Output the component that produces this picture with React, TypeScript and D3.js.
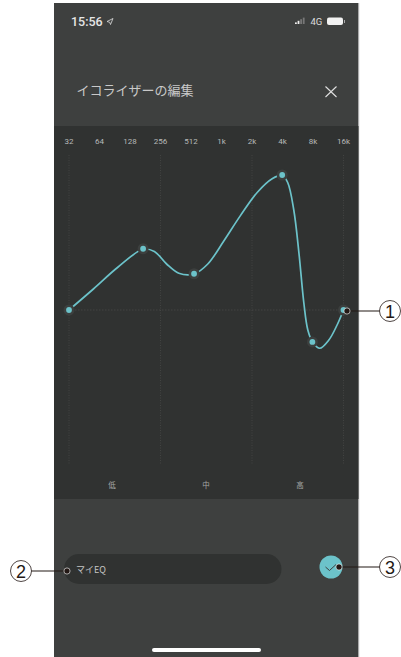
import React from "react";
import * as d3 from "d3";

const bands = ["32", "64", "128", "256", "512", "1k", "2k", "4k", "8k", "16k"];
const zones = ["低", "中", "高"];
// [band position, gain]
const handles: [number, number][] = [[0, 0], [2.43, 4.9], [4.1, 2.9], [6.99, 10.8], [7.98, -2.55], [9, 0]];
const curve: [number, number][] = [
  [0, 0], [0.8, 1.68], [1.6, 3.42], [2.43, 4.86], [2.8, 4.68], [3.2, 3.68], [3.6, 2.94], [4.1, 2.88],
  [4.55, 3.68], [5.07, 5.5], [5.62, 7.55], [6.17, 9.4], [6.66, 10.5], [6.99, 10.78], [7.17, 10.2],
  [7.37, 8], [7.54, 4.53], [7.7, 0.56], [7.83, -1.6], [7.99, -2.58], [8.22, -3.06], [8.52, -2.4], [8.79, -1.2], [9, 0],
];
const gridBands = [0, 3, 6, 9];
const zoneCentres = [1.41, 4.49, 7.57];

const x = d3.scaleLinear().domain([0, 9]).range([69, 343.5]);
const y = d3.scaleLinear().domain([-12, 12]).range([460, 160]);
const path = d3.line<[number, number]>().x((d) => x(d[0])).y((d) => y(d[1])).curve(d3.curveCatmullRom.alpha(0.5));

const SANS = "Roboto, 'Noto Sans CJK JP', sans-serif";
const JP = "'Noto Sans CJK JP', sans-serif";
const TEAL = "#6cc3ca";
const callouts = [
  { label: "1", dot: 347, cx: 390, cy: 311 },
  { label: "2", dot: 67, cx: 21, cy: 571 },
  { label: "3", dot: 339, cx: 390, cy: 567 },
];

export default function App() {
  return (
    <svg width={401} height={657} style={{ position: "absolute", left: 0, top: 0, background: "#fff" }}>
      <rect x={54} y={3} width={304.5} height={654} fill="#3e403f" />
      <rect x={358.5} y={3} width={0.7} height={654} fill="#b5b5b5" />
      <rect x={54} y={126} width={304.5} height={373} fill="#303231" />

      <text x={71} y={25.5} fontFamily={SANS} fontSize={12.5} fontWeight={500} fill="#e6e6e6">15:56</text>
      <path d="M107 21.5l6-3-2.5 6-.8-2.2z" fill="none" stroke="#ddd" strokeWidth={0.8} />
      {[0, 1, 2, 3].map((i) => (
        <rect key={i} x={295 + i * 2.6} y={24 - (i + 1) * 1.6} width={1.8} height={(i + 1) * 1.6} fill={i < 2 ? "#eee" : "#777"} />
      ))}
      <text x={310.5} y={24.5} fontFamily={SANS} fontSize={9.5} fill="#ddd">4G</text>
      <rect x={327} y={17.5} width={16} height={7.5} rx={2} fill="#f2f2f2" />
      <rect x={344} y={20} width={1} height={3} fill="#aaa" />

      <text x={76.5} y={95} fontFamily={JP} fontSize={13} fill="#c9c9c9">イコライザーの編集</text>
      <path d="M325.5 86.5l11 10.5M336.5 86.5l-11 10.5" stroke="#e0e0e0" strokeWidth={1.1} />

      {bands.map((b, i) => (
        <text key={b} x={x(i)} y={144} textAnchor="middle" fontFamily={SANS} fontSize={8} fill="#b8bab9">{b}</text>
      ))}
      {gridBands.map((b) => (
        <line key={b} x1={x(b)} x2={x(b)} y1={155} y2={465} stroke="#4a4c4b" strokeWidth={0.7} strokeDasharray="1 1.5" />
      ))}
      <line x1={69} x2={344} y1={y(0)} y2={y(0)} stroke="#4a4c4b" strokeWidth={0.7} strokeDasharray="1.5 1.5" />

      <path d={path(curve) ?? ""} fill="none" stroke={TEAL} strokeWidth={1.7} strokeLinecap="round" />
      {handles.map((d, i) => (
        <g key={i}>
          <circle cx={x(d[0])} cy={y(d[1])} r={5.5} fill="#3c3f3e" />
          <circle cx={x(d[0])} cy={y(d[1])} r={2.9} fill={TEAL} />
        </g>
      ))}

      {zones.map((z, i) => (
        <text key={z} x={x(zoneCentres[i])} y={488} textAnchor="middle" fontFamily={JP} fontSize={7.5} fill="#a5a7a6">{z}</text>
      ))}

      <rect x={64} y={554} width={217.5} height={30} rx={15} fill="#303231" />
      <text x={76} y={572.5} fontFamily={JP} fontSize={9} fill="#c5c5c5">マイEQ</text>
      <circle cx={331} cy={567} r={11.5} fill={TEAL} />
      <path d="M325.5 567l4 3.5 6.5-6" fill="none" stroke="#3e403f" strokeWidth={1} />
      <rect x={152} y={648} width={109} height={4} rx={2} fill="#fff" />

      {callouts.map((c) => (
        <g key={c.label}>
          <line x1={c.dot} x2={c.cx} y1={c.cy} y2={c.cy} stroke="#231815" strokeWidth={1.2} />
          <circle cx={c.dot} cy={c.cy} r={3.1} fill="#231815" stroke="#fff" strokeWidth={0.6} />
          <circle cx={c.cx} cy={c.cy} r={10.5} fill="#fff" stroke="#231815" strokeWidth={0.8} />
          <text x={c.cx} y={c.cy + 6.5} textAnchor="middle" fontFamily="'Liberation Sans', sans-serif" fontSize={18} fill="#231815">{c.label}</text>
        </g>
      ))}
    </svg>
  );
}
